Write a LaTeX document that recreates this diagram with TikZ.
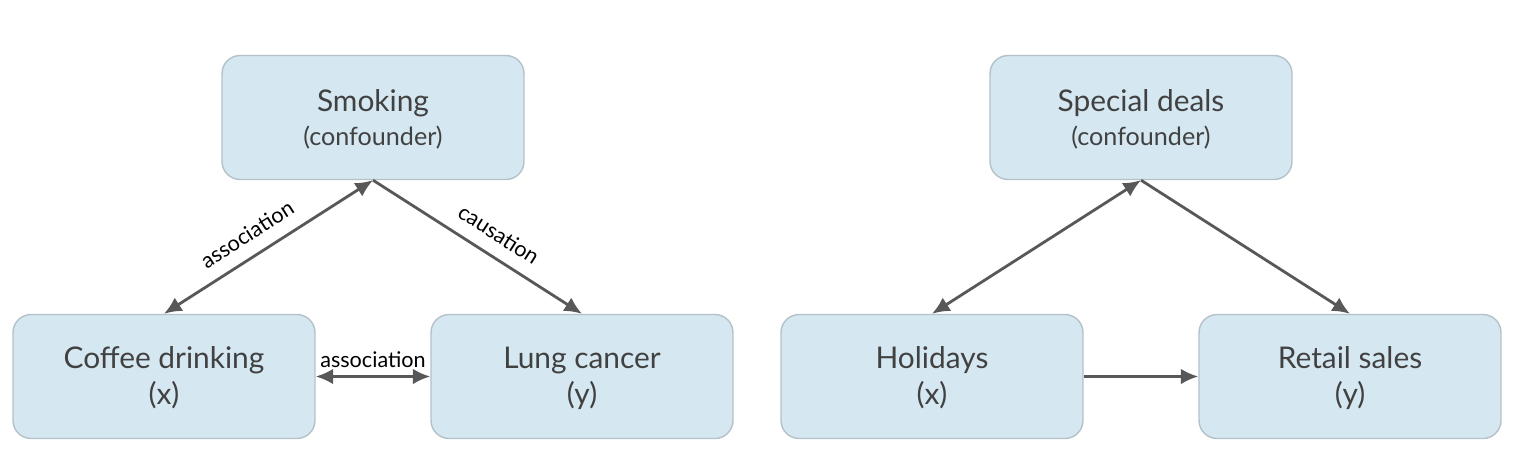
\documentclass[tikz,border=0pt]{standalone}
\usepackage{fontspec}
\setmainfont{Lato}
\usepackage{xcolor}
\usetikzlibrary{arrows.meta}
\definecolor{boxfill}{HTML}{D5E8F1}
\definecolor{boxline}{HTML}{B3C1C8}
\definecolor{arrowgray}{HTML}{585858}
\definecolor{textgray}{HTML}{414141}

\begin{document}
\begin{tikzpicture}[x=0.02cm,y=-0.02cm,
    varbox/.style={draw=boxline,fill=boxfill,rounded corners=0.36cm,line width=0.8pt,
      minimum width=6.04cm,minimum height=2.48cm,inner sep=0pt,align=center,
      text=textgray,font=\fontsize{17}{20.5}\selectfont},
    link/.style={draw=arrowgray,line width=1.6pt,-{Latex[length=10pt,width=9pt]}},
    bilink/.style={draw=arrowgray,line width=1.6pt,{Latex[length=10pt,width=9pt]}-{Latex[length=10pt,width=9pt]}},
    lbl/.style={text=black,font=\fontsize{12.3}{14}\selectfont}]
  \useasboundingbox (0,0) rectangle (1521,464);
  % Left diagram
  \node[varbox] (smoking) at (373,117.5) {\strut Smoking\\[-1pt]{\fontsize{14.3}{17}\selectfont(confounder)}};
  \node[varbox] (coffee) at (164,376.5) {\strut Coffee drinking\\(x)};
  \node[varbox] (lung) at (582,376.5) {\strut Lung cancer\\(y)};
  \draw[bilink] (coffee.north) -- node[lbl,pos=0.455,sloped,above=4pt] {association} (smoking.south);
  \draw[link] (smoking.south) -- node[lbl,pos=0.545,sloped,above=4pt] {causation} (lung.north);
  \draw[bilink] (coffee.east) -- node[lbl,above=1pt] {association} (lung.west);
  % Right diagram
  \node[varbox] (deals) at (1141,117.5) {\strut Special deals\\[-1pt]{\fontsize{14.3}{17}\selectfont(confounder)}};
  \node[varbox] (holidays) at (932,376.5) {\strut Holidays\\(x)};
  \node[varbox] (retail) at (1350,376.5) {\strut Retail sales\\(y)};
  \draw[bilink] (holidays.north) -- (deals.south);
  \draw[link] (deals.south) -- (retail.north);
  \draw[link] (holidays.east) -- (retail.west);
\end{tikzpicture}
\end{document}
